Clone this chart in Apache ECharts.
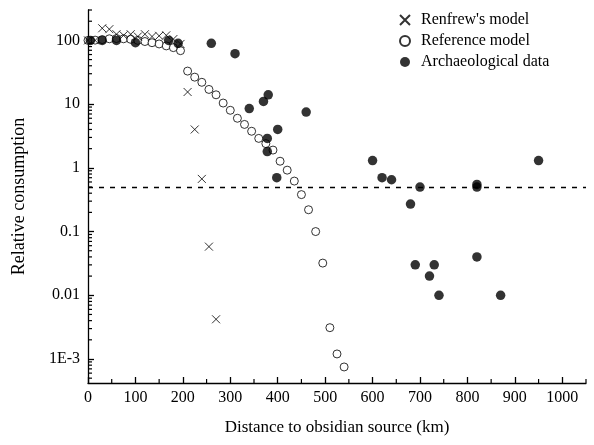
<!DOCTYPE html>
<html>
<head>
<meta charset="utf-8">
<script src="https://cdn.jsdelivr.net/npm/echarts@6/dist/echarts.min.js"></script>
<style>
  html, body { margin: 0; padding: 0; background: #fff; }
  #chart { width: 594px; height: 445px; }
</style>
</head>
<body>
<div id="chart"></div>
<script>
// Renfrew's down-the-line model: [distance km, relative consumption]
const renfrewModel = [
  [0, 100], [15, 100], [30, 155], [45, 150], [60, 125], [75, 120], [90, 125],
  [105, 115], [120, 125], [135, 115], [150, 118], [165, 120], [180, 105], [195, 88],
  [210, 15.5], [225, 4.0], [240, 0.67], [255, 0.058], [270, 0.0042]
];

// Reference model
const referenceModel = [
  [0, 100], [15, 101], [30, 103], [45, 106], [60, 107], [75, 106], [90, 104],
  [105, 100], [120, 96], [135, 92], [150, 88], [165, 82], [180, 77], [195, 69],
  [210, 33], [225, 26.5], [240, 22], [255, 17], [270, 14], [285, 10.4],
  [300, 8.0], [315, 6.0], [330, 4.8], [345, 3.75], [360, 2.9], [375, 2.4],
  [390, 1.9], [405, 1.27], [420, 0.92], [435, 0.62], [450, 0.38], [465, 0.22],
  [480, 0.10], [495, 0.032], [510, 0.0031], [525, 0.0012], [540, 0.00075]
];

// Archaeological obsidian finds
const archaeoData = [
  [5, 100], [30, 100], [60, 100], [100, 92], [170, 100], [190, 90], [260, 90],
  [310, 62], [340, 8.5], [370, 11], [380, 14], [378, 2.9], [378, 1.8],
  [400, 4.0], [398, 0.7], [460, 7.5], [600, 1.3], [620, 0.7], [640, 0.65],
  [680, 0.27], [700, 0.5], [820, 0.5], [820, 0.55], [950, 1.3], [820, 0.04],
  [690, 0.03], [730, 0.03], [720, 0.02], [740, 0.01], [870, 0.01]
];

// Reference level (dashed line)
const thresholdLevel = 0.5;

// Axis ranges and ticks
const xRange = [0, 1050];
const xMajorStep = 100;
const xMinorTicks = [50, 150, 250, 350, 450, 550, 650, 750, 850, 950, 1050];
const yRange = [0.00042, 300];
const yLabels = { '-3': '1E-3', '-2': '0.01', '-1': '0.1', '0': '1', '1': '10', '2': '100' };
const yMinorTicks = [];
[-4, -3, -2, -1, 0, 1, 2].forEach(function (k) {
  for (let m = 2; m <= 9; m++) {
    const v = m * Math.pow(10, k);
    if (v >= yRange[0] && v <= yRange[1]) yMinorTicks.push(v);
  }
});

const FONT = 'Liberation Serif, Times New Roman, serif';
const chart = echarts.init(document.getElementById('chart'), null, { renderer: 'canvas' });

const crossPath = 'path://M0,0L10,10M10,0L0,10';

// short inward tick drawn at a data position; dx/dy give direction and length
function tickRenderer(dx, dy) {
  return function (params, api) {
    const p = api.coord([api.value(0), api.value(1)]);
    return {
      type: 'line',
      shape: { x1: p[0], y1: p[1], x2: p[0] + dx, y2: p[1] + dy },
      style: { stroke: '#000', lineWidth: 1.2 }
    };
  };
}

chart.setOption({
  animation: false,
  backgroundColor: '#fff',
  textStyle: { fontFamily: FONT, color: '#000' },
  grid: { left: 88, right: 8, top: 10, bottom: 62, containLabel: false, outerBoundsMode: 'none' },
  legend: {
    data: ["Renfrew's model", 'Reference model', 'Archaeological data'],
    orient: 'vertical',
    left: 394,
    top: 7,
    itemGap: 5,
    itemWidth: 10,
    itemHeight: 10,
    textStyle: { fontFamily: FONT, fontSize: 16, color: '#000', padding: [0, 0, 0, 6] }
  },
  xAxis: {
    type: 'value',
    min: xRange[0],
    max: xRange[1],
    interval: xMajorStep,
    name: 'Distance to obsidian source (km)',
    nameLocation: 'middle',
    nameGap: 36,
    nameTextStyle: { fontFamily: FONT, fontSize: 17, color: '#000' },
    axisLine: { show: true, onZero: false, lineStyle: { color: '#000', width: 1.3 } },
    axisTick: { show: true, inside: true, length: 6, lineStyle: { color: '#000', width: 1.3 } },
    axisLabel: {
      fontFamily: FONT, fontSize: 16, color: '#000', margin: 7, showMaxLabel: false,
      formatter: function (v) { return String(v); }
    },
    splitLine: { show: false }
  },
  yAxis: {
    type: 'log',
    logBase: 10,
    min: yRange[0],
    max: yRange[1],
    name: 'Relative consumption',
    nameLocation: 'middle',
    nameGap: 60,
    nameTextStyle: { fontFamily: FONT, fontSize: 18, color: '#000' },
    axisLine: { show: true, onZero: false, lineStyle: { color: '#000', width: 1.3 } },
    axisTick: { show: true, inside: true, length: 6, lineStyle: { color: '#000', width: 1.3 } },
    axisLabel: {
      fontFamily: FONT, fontSize: 16, color: '#000', margin: 8,
      showMinLabel: false, showMaxLabel: false,
      formatter: function (v) {
        const e = Math.log10(v);
        const r = Math.round(e);
        if (Math.abs(e - r) > 1e-6) return '';
        return yLabels[String(r)] || '';
      }
    },
    splitLine: { show: false }
  },
  series: [
    {
      name: 'yMinorTicks',
      type: 'custom',
      coordinateSystem: 'cartesian2d',
      silent: true,
      clip: false,
      z: 5,
      data: yMinorTicks.map(function (v) { return [xRange[0], v]; }),
      renderItem: tickRenderer(4, 0)
    },
    {
      name: 'xMinorTicks',
      type: 'custom',
      coordinateSystem: 'cartesian2d',
      silent: true,
      clip: false,
      z: 5,
      data: xMinorTicks.map(function (v) { return [v, yRange[0]]; }),
      renderItem: tickRenderer(0, -4)
    },
    {
      name: "Renfrew's model",
      type: 'scatter',
      data: renfrewModel,
      symbol: crossPath,
      symbolSize: 8,
      itemStyle: { color: 'transparent', borderColor: '#000', borderWidth: 1 },
      z: 3
    },
    {
      name: 'Reference model',
      type: 'scatter',
      data: referenceModel,
      symbol: 'circle',
      symbolSize: 8,
      itemStyle: { color: '#fff', borderColor: '#000', borderWidth: 1 },
      z: 2,
      markLine: {
        silent: true,
        symbol: 'none',
        label: { show: false },
        lineStyle: { type: [5, 6], color: '#000', width: 1.4 },
        data: [{ yAxis: thresholdLevel }]
      }
    },
    {
      name: 'Archaeological data',
      type: 'scatter',
      data: archaeoData,
      symbol: 'circle',
      symbolSize: 9.5,
      itemStyle: { color: '#000', borderWidth: 0 },
      z: 4
    }
  ]
});
</script>
</body>
</html>
